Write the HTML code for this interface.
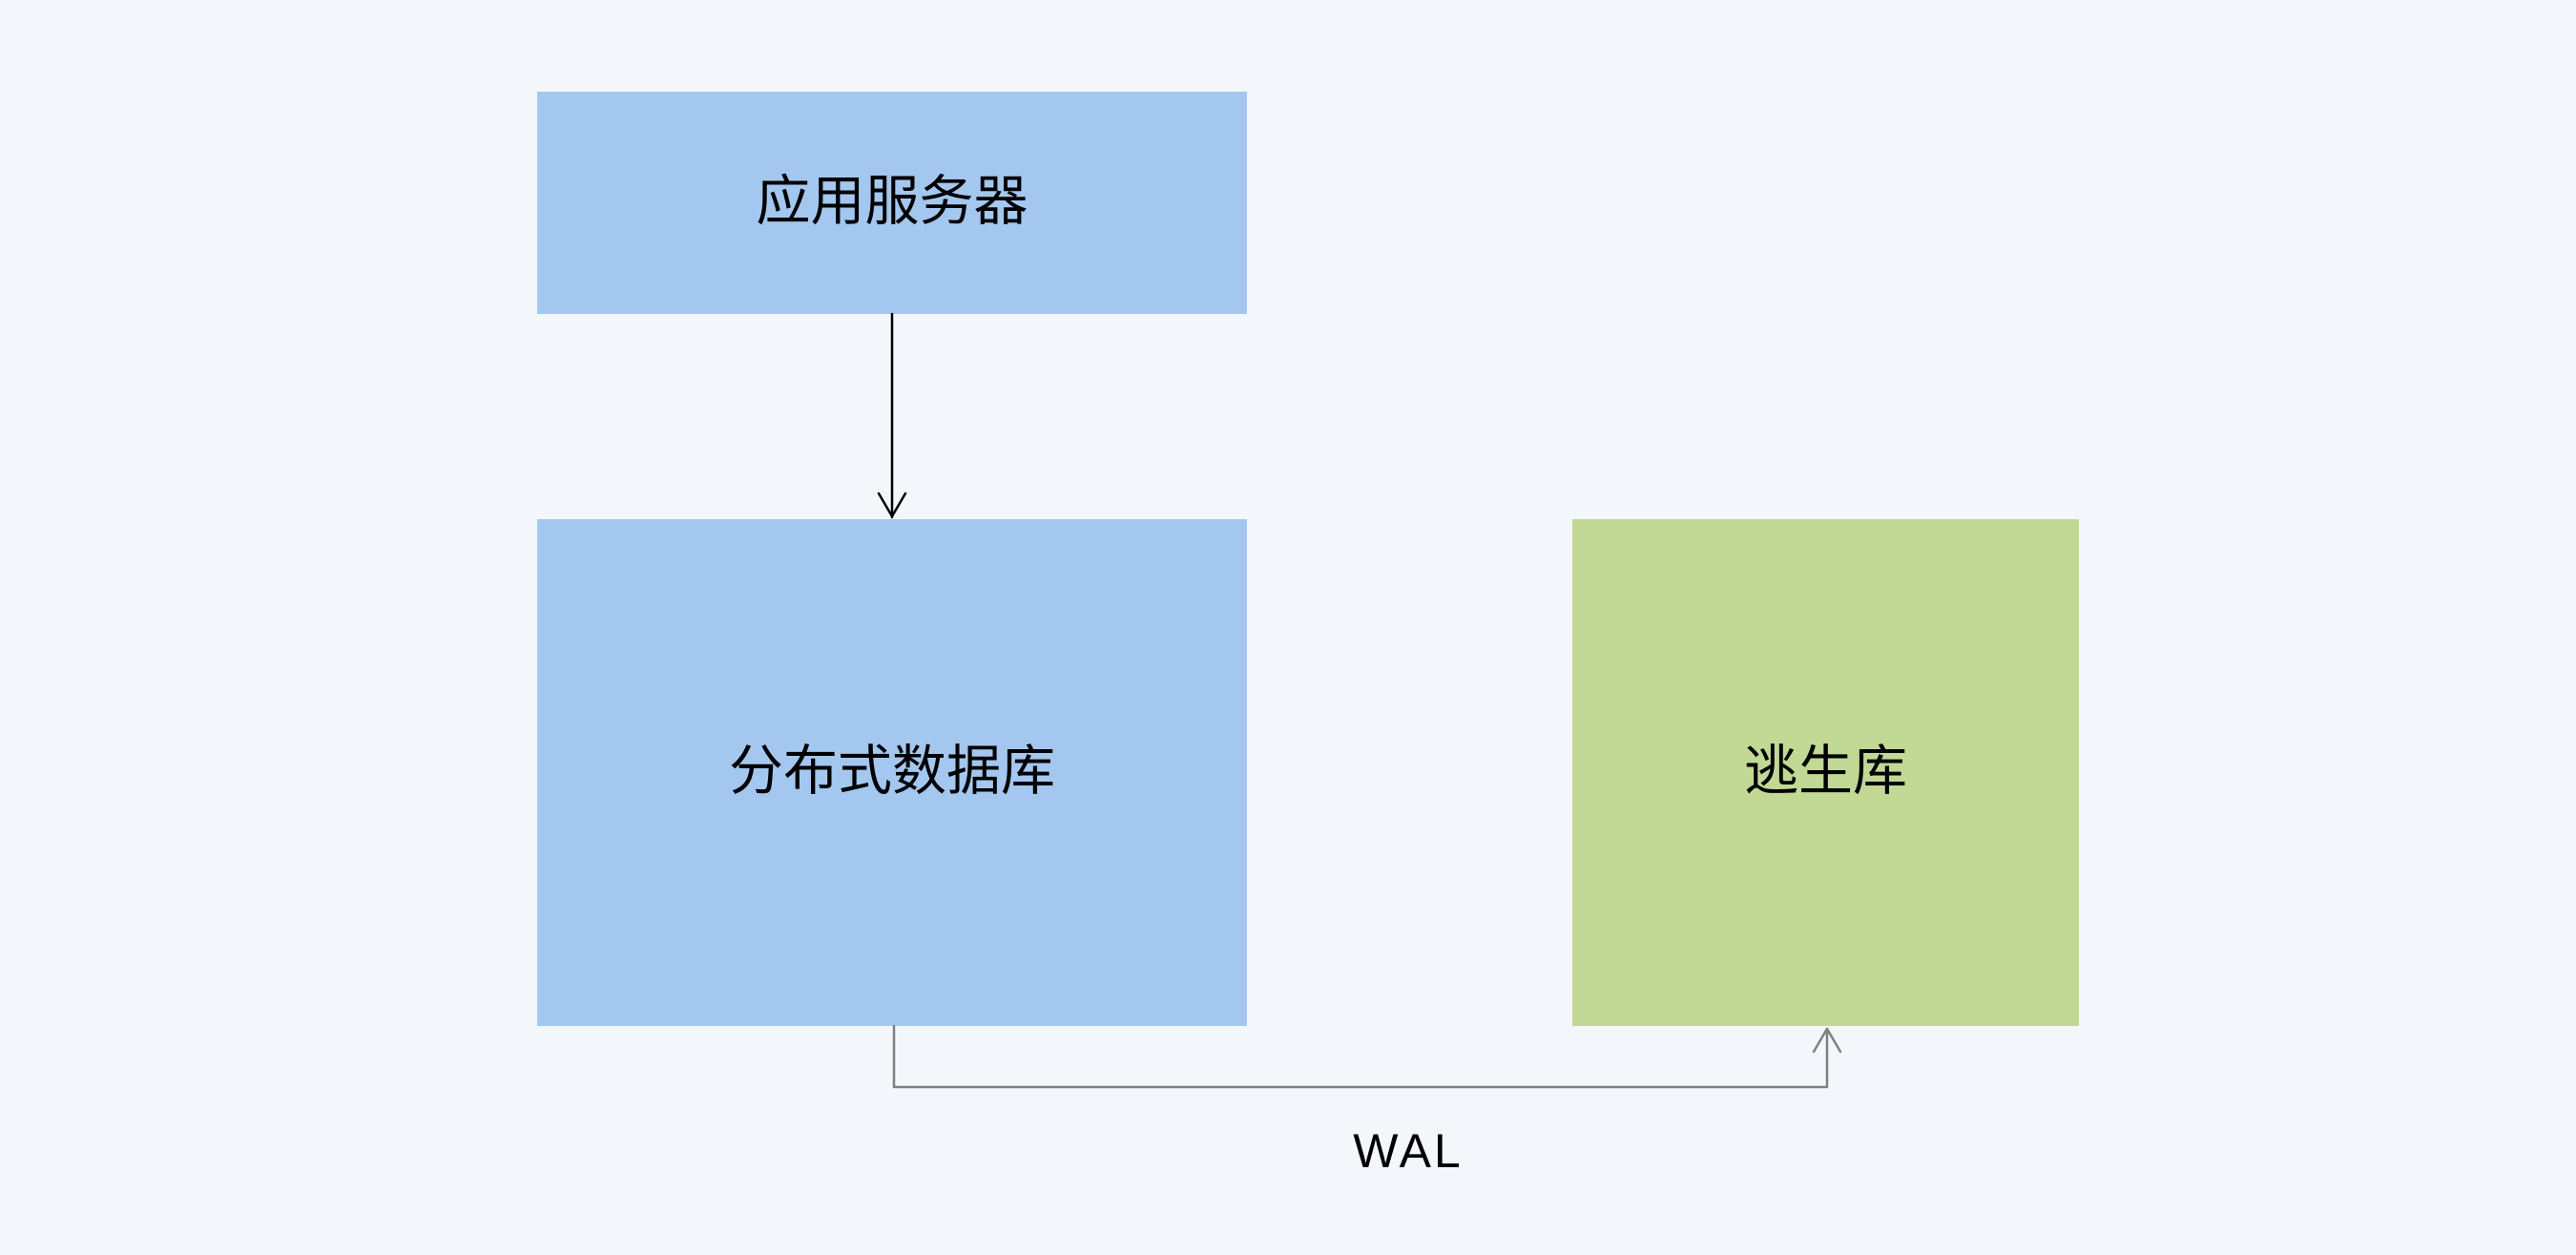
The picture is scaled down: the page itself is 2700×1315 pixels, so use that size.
<!DOCTYPE html>
<html><head><meta charset="utf-8"><style>
html,body{margin:0;padding:0;}
body{width:2700px;height:1315px;background:#f3f7fc;position:relative;overflow:hidden;font-family:"Liberation Sans","Noto Sans CJK SC",sans-serif;}
.b{position:absolute;display:flex;align-items:center;justify-content:center;font-size:57px;color:#000;box-sizing:border-box;padding-bottom:14px;}
</style></head><body>
<div class="b" style="left:563px;top:96px;width:744px;height:233px;background:#a4c7ef;">应用服务器</div>
<div class="b" style="left:563px;top:544px;width:744px;height:531px;background:#a4c7ef;">分布式数据库</div>
<div class="b" style="left:1648px;top:544px;width:531px;height:531px;background:#c1d994;">逃生库</div>
<svg width="2700" height="1315" style="position:absolute;left:0;top:0">
<g fill="none" stroke-linecap="round" stroke-linejoin="round">
<path d="M935 329 V542 M921 517 L935 541 L949 517" stroke="#000" stroke-width="2.5"/>
<path d="M937 1075 V1139 H1915 V1078 M1901 1102 L1915 1078 L1929 1102" stroke="#808080" stroke-width="2.5"/>
</g>
<text x="1476" y="1223" font-size="50" letter-spacing="3" text-anchor="middle" font-family="Liberation Sans, sans-serif" fill="#000">WAL</text>
</svg>
</body></html>
